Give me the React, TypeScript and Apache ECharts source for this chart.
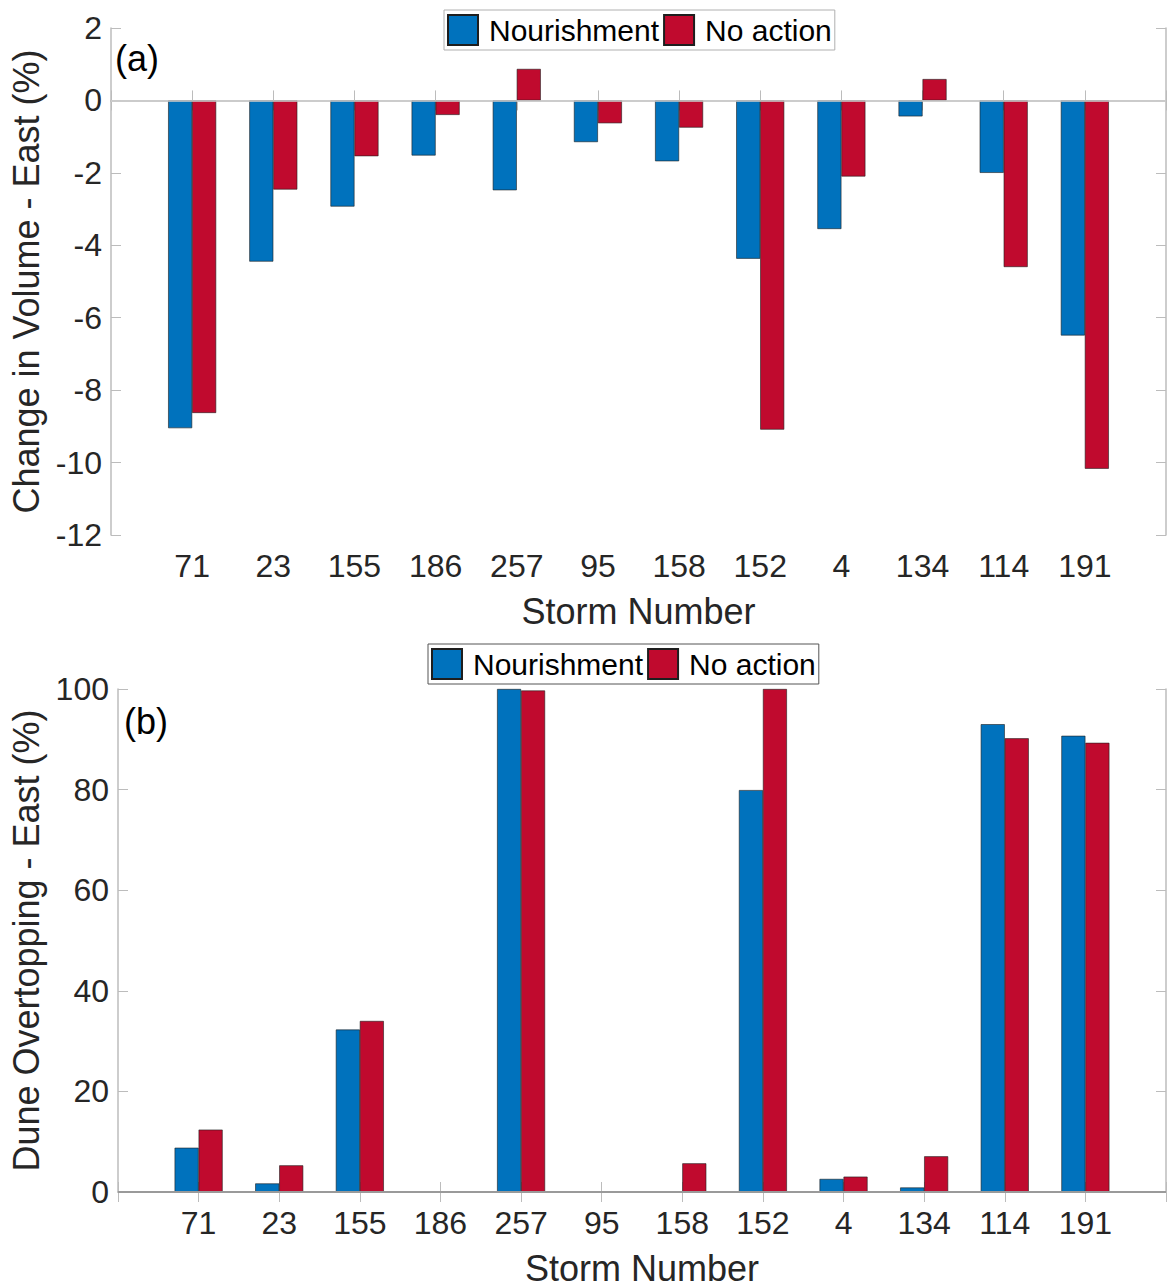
import React, { useEffect, useRef } from "react";
import * as echarts from "echarts";

const storms = ["71", "23", "155", "186", "257", "95", "158", "152", "4", "134", "114", "191"];
const volumeNourishment = [-9.05, -4.45, -2.93, -1.52, -2.48, -1.15, -1.68, -4.37, -3.55, -0.44, -2.0, -6.49];
const volumeNoAction = [-8.63, -2.46, -1.54, -0.4, 0.87, -0.63, -0.75, -9.09, -2.1, 0.59, -4.6, -10.17];
const overtopNourishment = [8.8, 1.7, 32.3, 0, 100, 0, 0, 79.9, 2.6, 0.9, 93.0, 90.7];
const overtopNoAction = [12.4, 5.3, 34.0, 0, 99.7, 0, 5.7, 100, 3.05, 7.1, 90.2, 89.3];

const BLUE = "#0072BD";
const RED = "#C00A2E";
const AXIS = "#bcbcbc";
const TXT = "#262626";
const FONT = "Liberation Sans, Arial, Helvetica, sans-serif";

const pad = (arr: any[]) => [null, ...arr, null];
const cats = ["", ...storms, ""];

export default function App() {
  const ref = useRef<HTMLDivElement>(null);
  useEffect(() => {
    document.body.style.margin = "0";
    const chart = echarts.init(ref.current!, null, { renderer: "svg" });

    const xBottom = (gi: number) => ({
      type: "category",
      gridIndex: gi,
      position: "bottom",
      data: cats,
      boundaryGap: false,
      axisLine: { lineStyle: { color: AXIS, width: 1.5 } },
      axisTick: { inside: true, length: 10, interval: 0, lineStyle: { color: AXIS } },
      axisLabel: { interval: 0, fontSize: 32, color: TXT, margin: 15, fontFamily: FONT },
      name: "Storm Number",
      nameLocation: "middle",
      nameGap: 58,
      nameTextStyle: { fontSize: 36, color: TXT, fontFamily: FONT },
      splitLine: { show: false },
    });
    const xTop = (gi: number) => ({
      type: "category",
      gridIndex: gi,
      position: "top",
      data: cats,
      boundaryGap: false,
      axisLine: { lineStyle: { color: AXIS, width: 1.5 } },
      axisTick: { inside: true, length: 10, interval: 0, lineStyle: { color: AXIS } },
      axisLabel: { show: false },
      splitLine: { show: false },
    });
    const yLeft = (gi: number, min: number, max: number, interval: number, name: string, gap: number) => ({
      type: "value",
      gridIndex: gi,
      position: "left",
      min,
      max,
      interval,
      axisLine: { show: true, lineStyle: { color: AXIS, width: 1.5 } },
      axisTick: { show: true, inside: true, length: 10, lineStyle: { color: AXIS } },
      axisLabel: { fontSize: 32, color: TXT, margin: 9, fontFamily: FONT },
      splitLine: { show: false },
      name,
      nameLocation: "middle",
      nameGap: gap,
      nameTextStyle: { fontSize: 36, color: TXT, fontFamily: FONT },
    });
    const yRight = (gi: number, min: number, max: number, interval: number) => ({
      type: "value",
      gridIndex: gi,
      position: "right",
      min,
      max,
      interval,
      axisLine: { show: true, lineStyle: { color: AXIS, width: 1.5 } },
      axisTick: { show: true, inside: true, length: 10, lineStyle: { color: AXIS } },
      axisLabel: { show: false },
      splitLine: { show: false },
    });

    const barSeries = (name: string, data: number[], color: string, axisIdx: number, zeroLine: any) => ({
      type: "bar",
      name,
      xAxisIndex: axisIdx,
      yAxisIndex: axisIdx,
      data: pad(data),
      barWidth: 24,
      barGap: "0%",
      itemStyle: { color, borderColor: "#1e1e1e", borderWidth: 0.6 },
      markLine: zeroLine,
    });

    const zeroA = {
      silent: true,
      symbol: "none",
      label: { show: false },
      lineStyle: { color: "#cfcfcf", width: 1.5, type: "solid" },
      data: [{ yAxis: 0 }],
    };
    const zeroB = {
      silent: true,
      symbol: "none",
      label: { show: false },
      lineStyle: { color: "#9a9a9a", width: 2, type: "solid" },
      data: [{ yAxis: 0 }],
    };

    const legendBase = {
      data: ["Nourishment", "No action"],
      orient: "horizontal",
      icon: "rect",
      itemWidth: 30,
      itemHeight: 30,
      itemGap: 4,
      padding: [4, 3, 4, 3],
      borderWidth: 1,
      backgroundColor: "#fff",
      textStyle: { fontSize: 30, color: "#000", fontFamily: FONT, padding: [0, 0, 0, 6] },
    };

    chart.setOption({
      animation: false,
      textStyle: { fontFamily: FONT },
      grid: [
        { left: 111, top: 28, width: 1061, height: 507 },
        { left: 118, top: 689, width: 1055, height: 503 },
      ],
      legend: [
        { ...legendBase, left: 444, top: 10, borderColor: "#b0b0b0" },
        { ...legendBase, left: 428, top: 644, borderColor: "#555" },
      ],
      xAxis: [xBottom(0), xBottom(1), xTop(0), xTop(1)],
      yAxis: [
        yLeft(0, -12, 2, 2, "Change in Volume - East (%)", 62),
        yLeft(1, 0, 100, 20, "Dune Overtopping - East (%)", 70),
        yRight(0, -12, 2, 2),
        yRight(1, 0, 100, 20),
      ],
      graphic: [
        { type: "text", left: 115, top: 40, style: { text: "(a)", fontSize: 36, fill: "#000", fontFamily: FONT } },
        { type: "text", left: 124, top: 703, style: { text: "(b)", fontSize: 36, fill: "#000", fontFamily: FONT } },
      ],
      series: [
        barSeries("Nourishment", volumeNourishment, BLUE, 0, zeroA),
        barSeries("No action", volumeNoAction, RED, 0, undefined),
        barSeries("Nourishment", overtopNourishment, BLUE, 1, zeroB),
        barSeries("No action", overtopNoAction, RED, 1, undefined),
      ],
    });
    return () => chart.dispose();
  }, []);
  return <div ref={ref} style={{ width: 1169, height: 1288 }} />;
}
